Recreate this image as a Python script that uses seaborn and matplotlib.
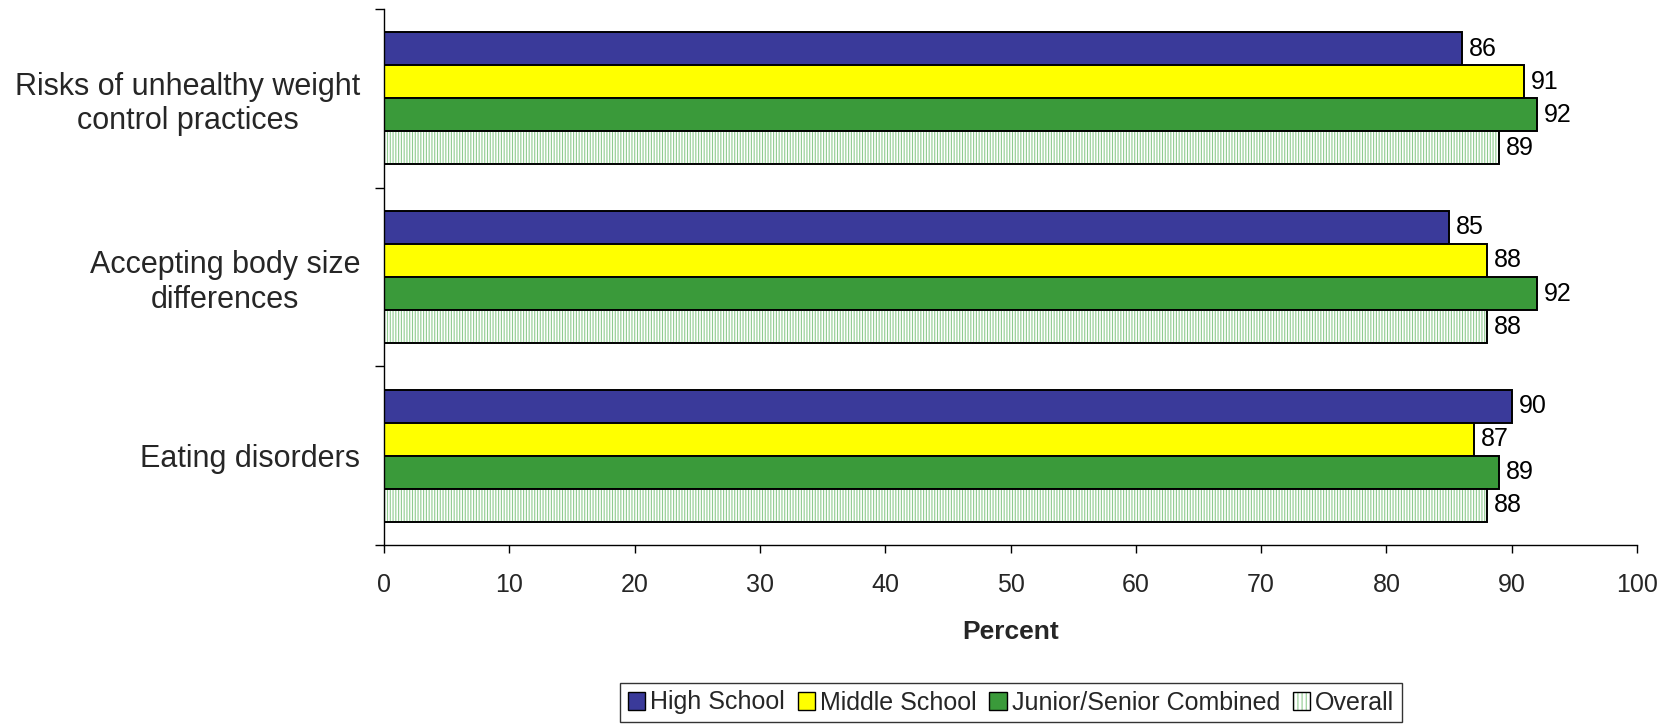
import matplotlib
matplotlib.use("Agg")
import matplotlib.pyplot as plt
import seaborn as sns
import pandas as pd
from matplotlib.patches import Patch, Rectangle

categories = ["Risks of unhealthy weight\ncontrol practices",
              "Accepting body size\ndifferences",
              "Eating disorders"]
series = ["High School", "Middle School", "Junior/Senior Combined", "Overall"]
high_school = [86, 85, 90]
middle_school = [91, 88, 87]
junior_senior = [92, 92, 89]
overall = [89, 88, 88]
x_ticks = [0, 10, 20, 30, 40, 50, 60, 70, 80, 90, 100]

sns.set_theme(style="white")
plt.rcParams["font.family"] = ["Liberation Sans", "DejaVu Sans"]
plt.rcParams["hatch.linewidth"] = 0.8

rows = []
for name, vals in zip(series, [high_school, middle_school, junior_senior, overall]):
    for c, v in zip(categories, vals):
        rows.append({"category": c, "series": name, "value": v})
df = pd.DataFrame(rows)

colors = {"High School": "#3A3A9A", "Middle School": "#FFFF00",
          "Junior/Senior Combined": "#3A9A3A", "Overall": "#FFFFFF"}

fig = plt.figure(figsize=(16.73, 7.24), dpi=100)
ax = fig.add_axes([384 / 1673, 1 - 545 / 724, (1637 - 384) / 1673, (545 - 9) / 724])

sns.barplot(data=df, y="category", x="value", hue="series", orient="h",
            order=categories, hue_order=series, palette=colors,
            width=0.74, ax=ax, legend=False, saturation=1,
            edgecolor="black", linewidth=1.4)

hatch_green = "#8FCB8F"
for name, cont in zip(series, ax.containers):
    if name == "Overall":
        for p in cont.patches:
            p.set_edgecolor(hatch_green)
            p.set_hatch("||||||")
            p.set_linewidth(0)
            ax.add_patch(Rectangle((p.get_x(), p.get_y()), p.get_width(), p.get_height(),
                                   fill=False, edgecolor="black", linewidth=1.4, zorder=p.get_zorder() + 0.1))
    ax.bar_label(cont, labels=[str(int(v)) for v in cont.datavalues], padding=5, fontsize=18, color="black")

ax.set_xlim(0, 100)
ax.set_ylim(2.5, -0.5)
ax.set_xticks(x_ticks)
ax.set_xticklabels([str(t) for t in x_ticks], fontsize=18)
ax.tick_params(axis="x", direction="out", length=6, width=1, color="black", pad=14, bottom=True)

ax.set_yticks([0, 1, 2])
ax.set_yticklabels(categories, fontsize=22, multialignment="center")
ax.tick_params(axis="y", which="major", length=0, pad=17)
ax.set_yticks([-0.5, 0.5, 1.5, 2.5], minor=True)
ax.tick_params(axis="y", which="minor", direction="out", length=6.5, width=1, color="black", left=True)

ax.set_ylabel("")
ax.set_xlabel("Percent", fontsize=19, fontweight="bold", labelpad=17)

for s in ["top", "right"]:
    ax.spines[s].set_visible(False)
for s in ["left", "bottom"]:
    ax.spines[s].set_color("black")
    ax.spines[s].set_linewidth(1)
ax.grid(False)

handles = [
    Patch(facecolor=colors["High School"], edgecolor="black", linewidth=1),
    Patch(facecolor=colors["Middle School"], edgecolor="black", linewidth=1),
    Patch(facecolor=colors["Junior/Senior Combined"], edgecolor="black", linewidth=1),
    (Patch(facecolor="white", edgecolor=hatch_green, hatch="||||", linewidth=0),
     Patch(fill=False, edgecolor="black", linewidth=1)),
]
leg = fig.legend(handles, series, loc="upper center", bbox_to_anchor=(1011 / 1673, 1 - 683 / 724),
                 ncol=4, fontsize=18, frameon=True, fancybox=False, edgecolor="black",
                 handlelength=0.7, handleheight=0.7, handletextpad=0.2, columnspacing=0.5,
                 borderpad=0.3, borderaxespad=0)
leg.get_frame().set_linewidth(1)

fig.savefig("out.png", dpi=100)
